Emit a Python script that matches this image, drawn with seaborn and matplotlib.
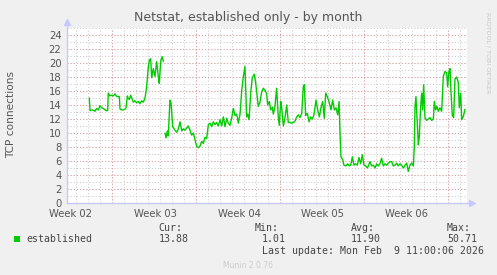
import numpy as np
import pandas as pd
import matplotlib
matplotlib.use("Agg")
import matplotlib.pyplot as plt
import seaborn as sns
from matplotlib.patches import Rectangle

# ---------------- data ----------------
title = "Netstat, established only - by month"
ylabel = "TCP connections"
series_name = "established"
week_labels = ["Week 02", "Week 03", "Week 04", "Week 05", "Week 06"]
y_ticks = list(range(0, 25, 2))

# days since left edge of the plot, segment before the data gap
seg1_days = [1.86, 1.92, 2.14, 2.33, 2.47, 2.61, 2.75, 2.89, 3.03, 3.25, 3.39, 3.44,
             3.58, 3.72, 3.86, 4.00, 4.14, 4.36, 4.42, 4.56, 4.69, 4.83, 4.92, 5.03,
             5.11, 5.19, 5.31, 5.42, 5.53, 5.67, 5.81, 5.94, 6.08, 6.22, 6.36, 6.50,
             6.64, 6.78, 6.86, 6.97, 7.06, 7.19, 7.33, 7.47, 7.61, 7.69, 7.81, 7.94, 8.03]
seg1_vals = [15.0, 13.2, 13.3, 13.1, 13.5, 13.3, 13.9, 13.6, 13.5, 13.2, 13.2, 15.7,
             15.3, 15.4, 15.3, 15.6, 15.2, 15.2, 13.4, 13.3, 13.3, 13.4, 13.6, 15.3,
             14.9, 14.8, 15.4, 14.9, 14.4, 14.6, 14.3, 14.5, 14.2, 14.6, 14.4, 15.0,
             16.6, 19.5, 20.4, 20.6, 17.9, 19.2, 18.1, 20.2, 18.0, 17.1, 20.3, 20.9, 20.2]

# segment after the gap
seg2_days = [8.17, 8.25, 8.36, 8.44, 8.58, 8.67, 8.81, 9.00, 9.14, 9.28,
             9.42, 9.56, 9.69, 9.83, 9.97, 10.11, 10.25, 10.39, 10.53, 10.67, 10.81, 10.94,
             11.08, 11.22, 11.36, 11.50, 11.64, 11.78, 11.92, 12.06, 12.19, 12.33, 12.47,
             12.61, 12.75, 12.89, 13.03, 13.17, 13.31, 13.44, 13.58, 13.72, 13.86, 14.00,
             14.14, 14.28, 14.42, 14.56, 14.69, 14.83, 14.89, 14.97, 15.06, 15.17, 15.33,
             15.44, 15.61, 15.72, 15.81, 15.94, 16.08, 16.22, 16.36, 16.50, 16.64, 16.72,
             16.86, 16.97, 17.11, 17.19, 17.33,
             17.47, 17.61, 17.69, 17.81, 17.89, 18.03, 18.17, 18.31, 18.44, 18.58, 18.72,
             18.86, 19.00, 19.14, 19.28, 19.42, 19.56, 19.69, 19.78, 19.89, 20.03, 20.17,
             20.31, 20.44, 20.58, 20.75, 20.89, 21.03, 21.17, 21.31, 21.44, 21.56, 21.69,
             21.83, 22.00, 22.14, 22.28, 22.42, 22.56, 22.67, 22.75, 22.83, 22.97, 23.08,
             23.25, 23.39, 23.53, 23.64, 23.78, 23.92, 24.06, 24.19, 24.33, 24.47, 24.61,
             24.75, 24.89, 25.03, 25.14, 25.25,
             25.39, 25.53, 25.67, 25.81, 25.94, 26.08, 26.22, 26.36, 26.50, 26.64, 26.78,
             26.92, 27.06, 27.19, 27.33, 27.47, 27.61, 27.75, 27.89, 28.03, 28.17, 28.31,
             28.44, 28.58, 28.72, 28.86, 28.94, 29.00, 29.08, 29.19, 29.28, 29.36, 29.47,
             29.56, 29.64, 29.72, 29.83, 29.97, 30.11, 30.25, 30.39, 30.53, 30.61, 30.72,
             30.83, 30.94, 31.08, 31.22, 31.36, 31.50, 31.64, 31.72, 31.83, 31.92, 32.00,
             32.11, 32.22, 32.33, 32.47, 32.61, 32.69, 32.81, 32.89, 33.03, 33.17]
seg2_vals = [10.0, 9.3, 10.3, 9.6, 14.7, 14.3, 10.9, 10.4, 10.1, 10.6,
             11.6, 10.3, 10.6, 10.4, 10.7, 11.0, 10.4, 9.7, 10.0, 9.0, 8.1, 7.9,
             8.1, 8.8, 8.5, 9.4, 9.2, 11.2, 11.4, 10.9, 11.6, 11.2, 11.5,
             11.0, 11.9, 11.0, 12.3, 10.9, 12.1, 11.4, 11.1, 12.1, 13.5, 12.5,
             12.7, 11.4, 12.7, 16.1, 18.0, 19.5, 16.6, 12.3, 12.7, 11.9, 16.1,
             17.9, 18.4, 17.2, 15.8, 13.8, 14.4, 15.8, 16.4, 16.1, 15.6, 14.0,
             14.5, 13.3, 13.7, 12.7, 13.8,
             16.4, 12.2, 11.1, 14.5, 13.6, 11.0, 12.2, 14.0, 11.5, 11.5, 11.4,
             11.5, 11.7, 12.3, 12.6, 12.2, 12.8, 16.6, 16.9, 12.5, 12.8, 11.6,
             12.3, 12.0, 12.6, 14.7, 13.3, 12.3, 13.7, 14.5, 12.1, 15.7, 15.2,
             14.5, 13.3, 14.7, 13.3, 13.6, 12.6, 14.5, 10.0, 6.6, 6.2, 5.4,
             5.3, 5.6, 5.3, 5.4, 6.6, 5.4, 5.6, 5.4, 6.5, 5.6, 6.9,
             5.4, 5.3, 5.0, 5.4, 5.9,
             5.3, 5.4, 5.0, 5.6, 5.3, 5.6, 6.4, 5.3, 5.6, 5.4, 5.7,
             5.9, 5.9, 5.3, 5.4, 5.7, 5.3, 5.6, 5.4, 5.0, 5.4, 5.7,
             4.5, 5.4, 5.7, 5.3, 8.0, 13.8, 15.2, 11.3, 8.3, 9.5, 13.8,
             15.7, 13.3, 16.9, 12.2, 11.8, 12.0, 12.2, 11.8, 12.0, 14.5, 13.3,
             13.8, 13.1, 13.6, 13.1, 18.1, 18.8, 18.6, 16.6, 18.8, 19.2, 15.8,
             12.5, 12.2, 17.7, 18.0, 17.2, 13.6, 15.7, 11.9, 12.4, 13.4]

stat_names = ["Cur:", "Min:", "Avg:", "Max:"]
stat_values = ["13.88", "1.01", "11.90", "50.71"]
last_update = "Last update: Mon Feb  9 11:00:06 2026"
munin_version = "Munin 2.0.76"
rrd_credit = "RRDTOOL / TOBI OETIKER"

df = pd.concat([
    pd.DataFrame({"day": seg1_days, "value": seg1_vals, "seg": 1}),
    pd.DataFrame({"day": seg2_days, "value": seg2_vals, "seg": 2}),
], ignore_index=True)

# ---------------- figure ----------------
W, H = 497, 275
BG = "#F0F0F0"
fig = plt.figure(figsize=(W / 100, H / 100), dpi=100, facecolor=BG)
sns.set_style("white")
plt.rcParams["font.family"] = ["DejaVu Sans"]

px_l, px_r, px_t, px_b = 67, 467, 28, 203
ax = fig.add_axes([px_l / W, (H - px_b) / H, (px_r - px_l) / W, (px_b - px_t) / H])
ax.set_facecolor("white")

xmax = (px_r - px_l) / 12.0
ax.set_xlim(0, xmax)
ax.set_ylim(0, 25)

# grid
grid_gray = "#CCCCCC"
grid_red = "#E3A0A0"
dots = (0, (1, 2))
ax.set_yticks(y_ticks)
ax.set_xticks([0.33 + 7 * i for i in range(len(week_labels))])
ax.set_xticklabels(week_labels)

for v in np.arange(1, 26, 1):
    ax.axhline(v, color=grid_gray, lw=0.75, ls=dots, zorder=1)
for v in y_ticks[1:]:
    ax.axhline(v, color=grid_red, lw=0.75, ls=dots, zorder=1.5)
for d in np.arange(0.75, xmax, 1.0):
    ax.axvline(d, color=grid_gray, lw=0.75, ls=dots, zorder=1)
for d in np.arange(3.75, xmax, 7.0):
    ax.axvline(d, color=grid_red, lw=0.75, ls=dots, zorder=1.5)

sns.lineplot(data=df, x="day", y="value", units="seg", estimator=None,
             color="#00CC00", lw=1.0, ax=ax, legend=False, zorder=3)
ax.set_xlabel("")
ax.set_ylabel("")

for s in ax.spines.values():
    s.set_visible(False)
axis_col = "#C8C8FF"
ax.plot([0, 1.0075], [0, 0], transform=ax.transAxes, color=axis_col, lw=1, clip_on=False, zorder=4)
ax.plot([0, 0], [0, 1.03], transform=ax.transAxes, color=axis_col, lw=1, clip_on=False, zorder=4)
ax.plot([1.0115], [0], transform=ax.transAxes, marker=">", ms=4, color=axis_col, clip_on=False, zorder=4)
ax.plot([0], [1.035], transform=ax.transAxes, marker="^", ms=4, color=axis_col, clip_on=False, zorder=4)

txt_col = "#555555"
ax.tick_params(axis="both", which="major", length=0, labelsize=7.2, labelcolor=txt_col)
ax.tick_params(axis="y", which="major", pad=4)
ax.tick_params(axis="x", which="major", pad=4.5)

fig.text(248 / W, 1 - 17 / H, title, ha="center", va="center", fontsize=9.0, color=txt_col)
fig.text(11 / W, 1 - 115 / H, ylabel, ha="center", va="center", rotation=90,
         fontsize=7.6, color=txt_col)
fig.text(488.5 / W, 1 - 53 / H, rrd_credit, ha="center", va="center", rotation=270,
         fontsize=4.6, color="#C8C8C8")

# legend block
mono = "DejaVu Sans Mono"
leg_col = "#444444"
fs = 7.1
fig.patches.append(Rectangle((14 / W, 1 - 242 / H), 6 / W, 6 / H, transform=fig.transFigure,
                             facecolor="#00CC00", edgecolor="none"))
fig.text(26.5 / W, 1 - 239.5 / H, series_name, ha="left", va="center",
         family=mono, fontsize=fs, color=leg_col)
name_x = [158.3, 255.0, 351.0, 446.7]
val_x = [158.3, 261.7, 351.0, 447.3]
for nx, vx, n, v in zip(name_x, val_x, stat_names, stat_values):
    fig.text(nx / W, 1 - 228 / H, n, ha="left", va="center", family=mono, fontsize=fs, color=leg_col)
    fig.text(vx / W, 1 - 239.5 / H, v, ha="left", va="center", family=mono, fontsize=fs, color=leg_col)
fig.text(261.7 / W, 1 - 251.5 / H, last_update, ha="left", va="center",
         family=mono, fontsize=fs, color=leg_col)
fig.text(247.7 / W, 1 - 266 / H, munin_version, ha="center", va="center",
         fontsize=5.5, color="#CCCCCC")

fig.savefig("out.png", dpi=100, facecolor=BG)
